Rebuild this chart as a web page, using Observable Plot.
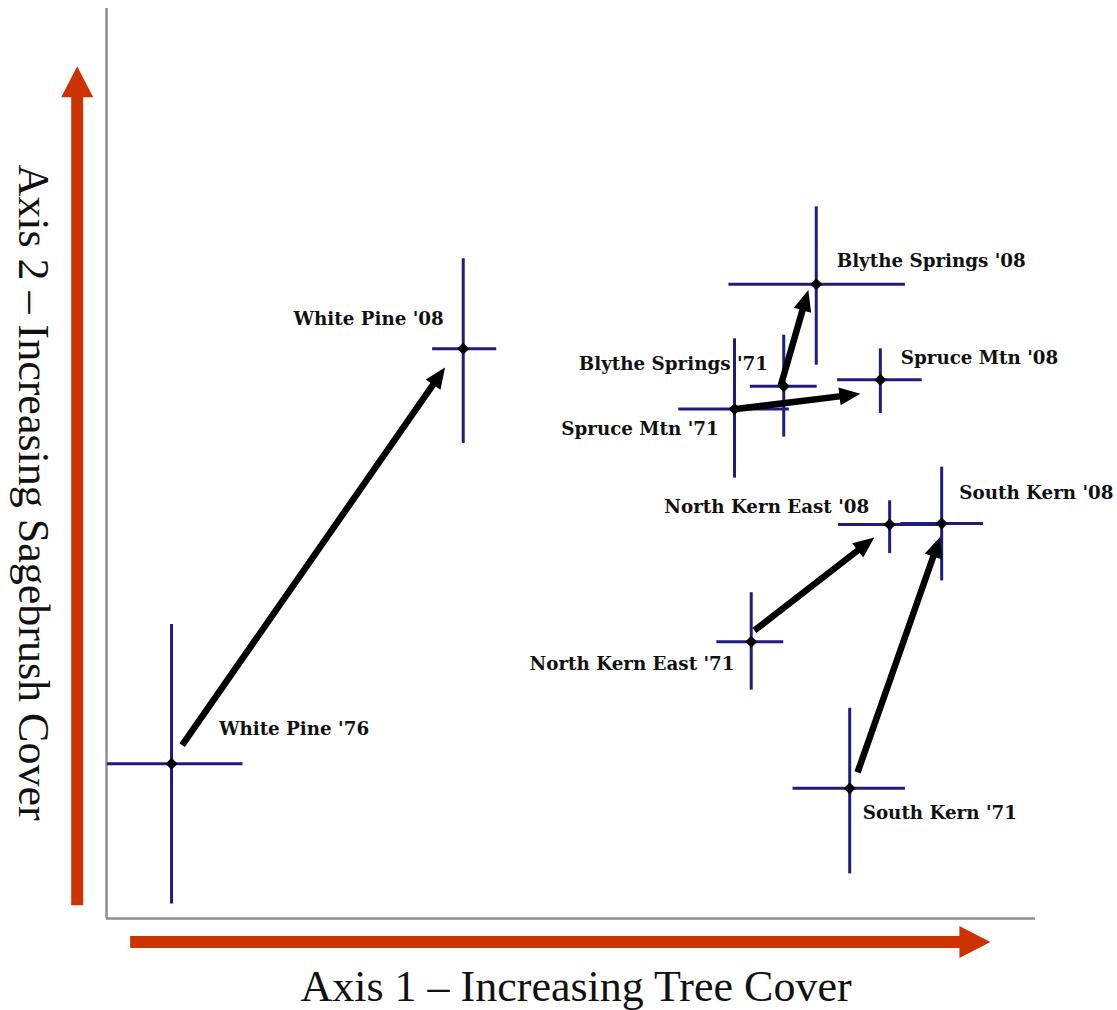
<!DOCTYPE html>
<html>
<head>
<meta charset="utf-8">
<script src="https://cdn.jsdelivr.net/npm/d3@7"></script>
<script src="https://cdn.jsdelivr.net/npm/@observablehq/plot@0.6"></script>
<style>
  html, body { margin: 0; padding: 0; background: #fff; }
  #chart { width: 1117px; height: 1010px; overflow: hidden; }
</style>
</head>
<body>
<div id="chart"></div>
<script>
// ---- data (ordination scores, arbitrary units) ----
const sites   = ["White Pine '76", "White Pine '08", "Blythe Springs '71", "Blythe Springs '08",
                 "Spruce Mtn '71", "Spruce Mtn '08", "North Kern East '71", "North Kern East '08",
                 "South Kern '71", "South Kern '08"];
const axis1   = [7.0, 38.4, 72.9, 76.4, 67.6, 83.3, 69.4, 84.3, 80.0, 89.9];
const axis2   = [17.0, 62.6, 58.5, 69.7, 56.0, 59.2, 30.4, 43.3, 14.3, 43.4];
const axis1Lo = [0.1, 35.1, 69.3, 67.0, 61.6, 78.7, 65.7, 78.8, 73.9, 85.5];
const axis1Hi = [14.7, 42.0, 76.5, 86.0, 73.5, 87.8, 72.9, 89.8, 86.0, 94.4];
const axis2Lo = [1.6, 52.2, 52.9, 60.8, 48.4, 55.5, 25.1, 40.1, 4.9, 37.1];
const axis2Hi = [32.3, 72.5, 64.1, 78.2, 63.7, 62.6, 35.8, 45.9, 23.1, 49.6];

// label anchor positions (same units)
const labelX      = [12.1, 36.3, 71.2, 78.6, 65.9, 85.5, 67.6, 82.1, 81.4, 91.8];
const labelY      = [20.8, 65.9, 60.9, 72.2, 53.8, 61.6, 28.0, 45.2, 11.6, 46.7];
const labelAnchor = ["start", "end", "end", "start", "end", "start", "end", "end", "start", "start"];

// change arrows (1970s -> 2008)
const arrowFromX = [8.2, 72.6, 67.6, 69.8, 80.9];
const arrowFromY = [19.0, 58.4, 55.9, 31.6, 16.0];
const arrowToX   = [36.5, 75.6, 81.2, 82.7, 89.8];
const arrowToY   = [60.5, 69.0, 57.6, 41.8, 41.9];

// axis direction arrows
const dirFromX = [2.6, -3.1];
const dirFromY = [-2.64, 1.4];
const dirToX   = [95.2, -3.1];
const dirToY   = [-2.64, 93.6];

const axisTitles = ["Axis 1 \u2013 Increasing Tree Cover", "Axis 2 \u2013 Increasing Sagebrush Cover"];

// ---- build tables ----
const pts = sites.map((s, i) => ({
  site: s, x: axis1[i], y: axis2[i],
  xlo: axis1Lo[i], xhi: axis1Hi[i], ylo: axis2Lo[i], yhi: axis2Hi[i],
  lx: labelX[i], ly: labelY[i], anchor: labelAnchor[i]
}));
const arrows = arrowFromX.map((d, i) => ({x1: d, y1: arrowFromY[i], x2: arrowToX[i], y2: arrowToY[i]}));
const dirArrows = dirFromX.map((d, i) => ({x1: d, y1: dirFromY[i], x2: dirToX[i], y2: dirToY[i]}));

function arrowPolygon(x1, y1, x2, y2, shaft, headLen, headW) {
  const dx = x2 - x1, dy = y2 - y1, L = Math.hypot(dx, dy);
  const ux = dx / L, uy = dy / L, px = -uy, py = ux;
  const bx = x2 - ux * headLen, by = y2 - uy * headLen;
  const s = shaft / 2, h = headW / 2;
  return [[x1 + px * s, y1 + py * s], [bx + px * s, by + py * s], [bx + px * h, by + py * h],
          [x2, y2], [bx - px * h, by - py * h], [bx - px * s, by - py * s], [x1 - px * s, y1 - py * s]];
}

function filledArrows(data, {shaft, headLen, headW, fill}) {
  return (index, scales) => {
    const g = d3.create("svg:g");
    for (const d of data) {
      const p = arrowPolygon(scales.x(d.x1), scales.y(d.y1), scales.x(d.x2), scales.y(d.y2), shaft, headLen, headW);
      g.append("polygon").attr("points", p.map(q => q.join(",")).join(" ")).attr("fill", fill);
    }
    return g.node();
  };
}

const navy = "#1f1c80";
const labelFont = {fontFamily: "DejaVu Serif", fontWeight: "bold", fontSize: 18.3, fill: "#111"};

const chart = Plot.plot({
  width: 1117,
  height: 1010,
  marginLeft: 106,
  marginRight: 82,
  marginTop: 8,
  marginBottom: 92,
  x: {domain: [0, 100], axis: null},
  y: {domain: [0, 100], axis: null},
  style: {background: "white", overflow: "visible"},
  marks: [
    // frame
    Plot.ruleX([0], {stroke: "#8f8f8f", strokeWidth: 2.5}),
    Plot.ruleY([0], {stroke: "#8f8f8f", strokeWidth: 2.5}),
    // direction arrows
    filledArrows(dirArrows, {shaft: 12, headLen: 31, headW: 32, fill: "#cc3300"}),
    // error bars
    Plot.ruleY(pts, {y: "y", x1: "xlo", x2: "xhi", stroke: navy, strokeWidth: 3}),
    Plot.ruleX(pts, {x: "x", y1: "ylo", y2: "yhi", stroke: navy, strokeWidth: 3}),
    // change arrows
    filledArrows(arrows, {shaft: 6.5, headLen: 21, headW: 18, fill: "#000"}),
    // points
    Plot.dot(pts, {x: "x", y: "y", symbol: "diamond2", r: 5.4, fill: "#000", stroke: "none"}),
    // labels
    Plot.text(pts.filter(d => d.anchor === "start"), {x: "lx", y: "ly", text: "site", textAnchor: "start", ...labelFont}),
    Plot.text(pts.filter(d => d.anchor === "end"), {x: "lx", y: "ly", text: "site", textAnchor: "end", ...labelFont}),
    // axis titles
    Plot.text([axisTitles[0]], {frameAnchor: "bottom", dx: 5, dy: 68, textAnchor: "middle", lineAnchor: "middle",
      fontFamily: "Liberation Serif", fontSize: 44, fill: "#111"}),
    Plot.text([axisTitles[1]], {frameAnchor: "left", dx: -73, dy: 29, rotate: 90, textAnchor: "middle", lineAnchor: "middle",
      fontFamily: "Liberation Serif", fontSize: 44, fill: "#111"})
  ]
});
document.getElementById("chart").appendChild(chart);
</script>
</body>
</html>
